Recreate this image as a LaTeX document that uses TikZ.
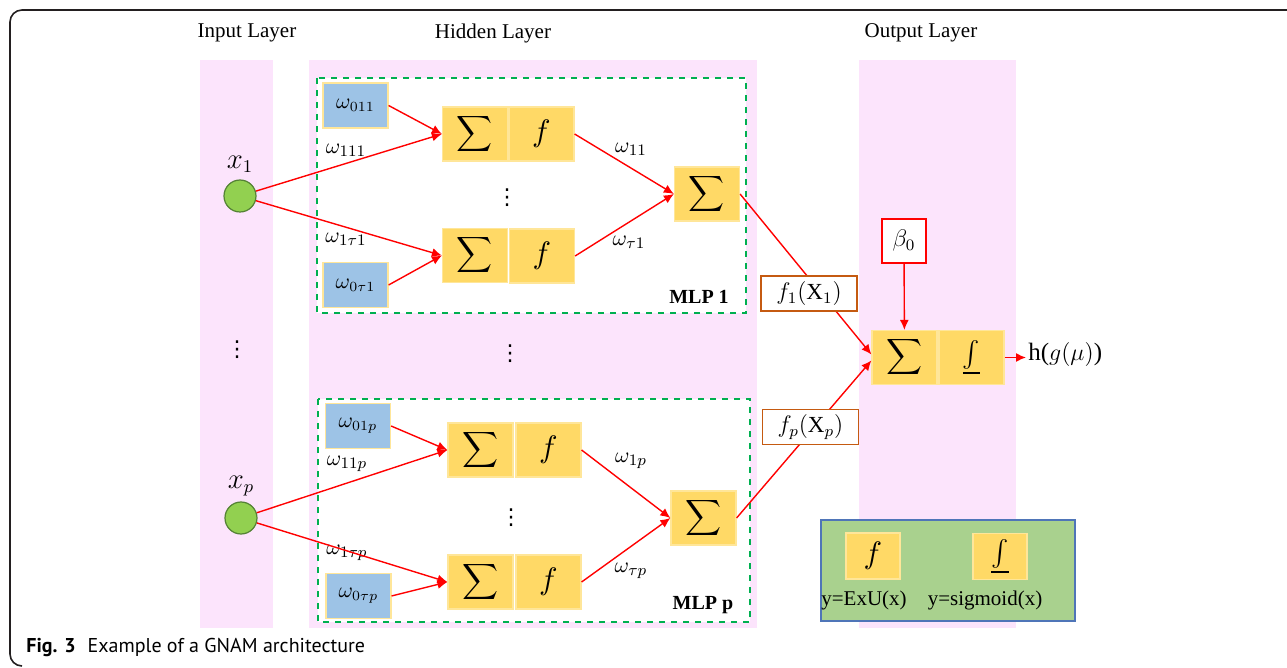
\documentclass[tikz,border=0pt]{standalone}
\usepackage{fontspec}
\setmainfont{Liberation Serif}
\newfontfamily\capfont{PT Sans}
\newfontfamily\symfont{DejaVu Sans}
\usetikzlibrary{arrows.meta}
\definecolor{pinkbg}{HTML}{FCE4FC}
\definecolor{yelF}{HTML}{FFD966}
\definecolor{yelB}{HTML}{FFE699}
\definecolor{bluF}{HTML}{9DC3E6}
\definecolor{grnC}{HTML}{92D050}
\definecolor{grnCB}{HTML}{548235}
\definecolor{dashG}{HTML}{00B050}
\definecolor{brnB}{HTML}{C55A11}
\definecolor{legF}{HTML}{A9D18E}
\definecolor{legB}{HTML}{4F75B8}
\definecolor{frameC}{HTML}{231F20}
\newcommand\mysum{\scalebox{1.25}{$\displaystyle\sum$}}
\newcommand\myf{\scalebox{1.55}{$f$}}
\newcommand\myint{\scalebox{1.3}{$\underline{\int}$}}
\begin{document}
\begin{tikzpicture}[x=0.5pt,y=-0.5pt,
  ybox/.style={fill=yelF,draw=yelB,line width=0.6pt,minimum width=32.5pt,minimum height=27pt,inner sep=0pt},
  bbox/.style={fill=bluF,draw=yelB,line width=0.6pt,minimum width=32.5pt,minimum height=22.5pt,inner sep=0pt,font=\fontsize{10.5}{12}\selectfont},
  lbox/.style={fill=yelF,draw=yelB,line width=0.6pt,minimum width=27pt,minimum height=23pt,inner sep=0pt},
  fxbox/.style={fill=white,draw=brnB,line width=0.7pt,minimum width=48pt,minimum height=17.5pt,inner sep=0pt,font=\fontsize{11.5}{13}\selectfont},
  inode/.style={circle,fill=grnC,draw=grnCB,line width=0.6pt,minimum size=16pt,inner sep=0pt},
  arr/.style={draw=red,line width=0.7pt,-{Latex[length=5pt,width=4.5pt]}},
  wlab/.style={font=\fontsize{11}{12}\selectfont,inner sep=0pt},
  laylab/.style={font=\fontsize{10.5}{12}\selectfont,inner sep=0pt},
  mlplab/.style={font=\fontsize{10}{12}\selectfont\bfseries,inner sep=0pt},
  dots/.style={font=\symfont\fontsize{11}{12}\selectfont,inner sep=0pt},
  panel/.style={fill=pinkbg,draw=none},
  mlpbox/.style={fill=white,draw=dashG,dashed,line width=0.7pt}
]
\useasboundingbox (0,0) rectangle (1287,668);
% frame
\draw[frameC,line width=0.8pt,rounded corners=6pt] (1290,10) -- (10,10) -- (10,666) -- (22,666);
% panels
\fill[panel] (200,60) rectangle (273,628);
\fill[panel] (309,60) rectangle (757,628);
\fill[panel] (859,60) rectangle (1016,628);
\node[laylab] (lin) at (247,33) {Input Layer};
\node[laylab] (lhid) at (493,33) {Hidden Layer};
\node[laylab] (lout) at (921,33) {Output Layer};
% MLP boxes
\draw[mlpbox] (317,78) rectangle (746,313);
\draw[mlpbox] (318,399) rectangle (750,622);
% input nodes
\node[inode] (c1) at (240,196) {};
\node[inode] (cp) at (241,518) {};
\node[font=\fontsize{13.5}{15}\selectfont,inner sep=0pt] (lx1) at (240,164) {$x_1$};
\node[font=\fontsize{13.5}{15}\selectfont,inner sep=0pt] (lxp) at (241,486) {$x_p$};
\node[dots] (din) at (237,350) {⋮};
\node[dots] (dhid) at (510,354) {⋮};
% MLP 1
\node[bbox] (w011) at (355.5,105.5) {$\omega_{011}$};
\node[bbox] (w0t1) at (355.5,285) {$\omega_{0\tau1}$};
\node[ybox] (s1a) at (475,134) {\mysum};
\node[ybox] (f1a) at (541.5,134) {\myf};
\node[ybox] (s1b) at (475,255.5) {\mysum};
\node[ybox] (f1b) at (542,256) {\myf};
\node[ybox] (o1) at (707,194) {\mysum};
\node[dots] (d1) at (507,198) {⋮};
\node[wlab] (l111) at (346,150) {$\omega_{111}$};
\node[wlab] (l1t1) at (346,239) {$\omega_{1\tau1}$};
\node[wlab] (l11) at (631,149) {$\omega_{11}$};
\node[wlab] (lt1) at (629,242) {$\omega_{\tau1}$};
\node[mlplab] (m1) at (699,297) {MLP 1};
% MLP p
\node[bbox] (w01p) at (358,426) {$\omega_{01p}$};
\node[bbox] (w0tp) at (358.5,596) {$\omega_{0\tau p}$};
\node[ybox] (spa) at (480.5,450) {\mysum};
\node[ybox] (fpa) at (548.5,450) {\myf};
\node[ybox] (spb) at (480.5,582) {\mysum};
\node[ybox] (fpb) at (548.5,582) {\myf};
\node[ybox] (op) at (703.5,518) {\mysum};
\node[dots] (dp) at (511,518) {⋮};
\node[wlab] (l11p) at (347,464) {$\omega_{11p}$};
\node[wlab] (l1tp) at (347,553) {$\omega_{1\tau p}$};
\node[wlab] (l1p) at (631,461) {$\omega_{1p}$};
\node[wlab] (ltp) at (631,571) {$\omega_{\tau p}$};
\node[mlplab] (mp) at (703,605) {MLP p};
% output layer
\node[ybox] (so) at (904.5,357.5) {\mysum};
\node[ybox] (io) at (971.5,357.5) {\myint};
\node[fill=white,draw=red,line width=0.7pt,minimum size=22pt,inner sep=0pt,font=\fontsize{12}{13}\selectfont] (beta) at (904,241) {$\beta_0$};
\coordinate (hout) at (1026,357.5);
\node[anchor=west,inner sep=0pt,font=\fontsize{12.5}{14}\selectfont] (hg) at (1028,355) {h($g(\mu)$)};
% connectors
\draw[arr] (c1) -- (s1a.west);
\draw[arr] (c1) -- (s1b.west);
\draw[arr] (w011.east) -- (s1a.west);
\draw[arr] (w0t1.east) -- (s1b.west);
\draw[arr] (f1a.east) -- (o1.west);
\draw[arr] (f1b.east) -- (o1.west);
\draw[arr] (cp) -- (spa.west);
\draw[arr] (cp) -- (spb.west);
\draw[arr] (w01p.east) -- (spa.west);
\draw[arr] (w0tp.east) -- (spb.west);
\draw[arr] (fpa.east) -- (op.west);
\draw[arr] (fpb.east) -- (op.west);
\draw[arr] (o1.east) -- ([yshift=1.5pt]so.west);
\draw[arr] (op.east) -- ([yshift=-1.5pt]so.west);
\draw[arr] (beta) -- (so);
\draw[arr] (io.east) -- (hout);
% function boxes on top of lines
\node[fxbox] (F1) at (809,293.5) {$f_1(\mathrm{X}_1)$};
\node[fxbox] (Fp) at (810.5,427) {$f_p(\mathrm{X}_p)$};
% legend
\node[fill=legF,draw=legB,line width=0.7pt,minimum width=127pt,minimum height=50.5pt,inner sep=0pt] (leg) at (948,570.5) {};
\node[lbox] (lf) at (873,556) {\myf};
\node[lbox] (li) at (1000,556.5) {\myint};
\node[inner sep=0pt,font=\fontsize{10.5}{12}\selectfont] (tf) at (864,600) {y=ExU(x)};
\node[inner sep=0pt,font=\fontsize{10.5}{12}\selectfont] (ti) at (985,600) {y=sigmoid(x)};
% caption
\node[anchor=west,inner sep=0pt,font=\capfont\fontsize{10}{12}\selectfont] (cap) at (26,648) {\textbf{Fig. 3}\hspace{0.6em}Example of a GNAM architecture};
\end{tikzpicture}
\end{document}
